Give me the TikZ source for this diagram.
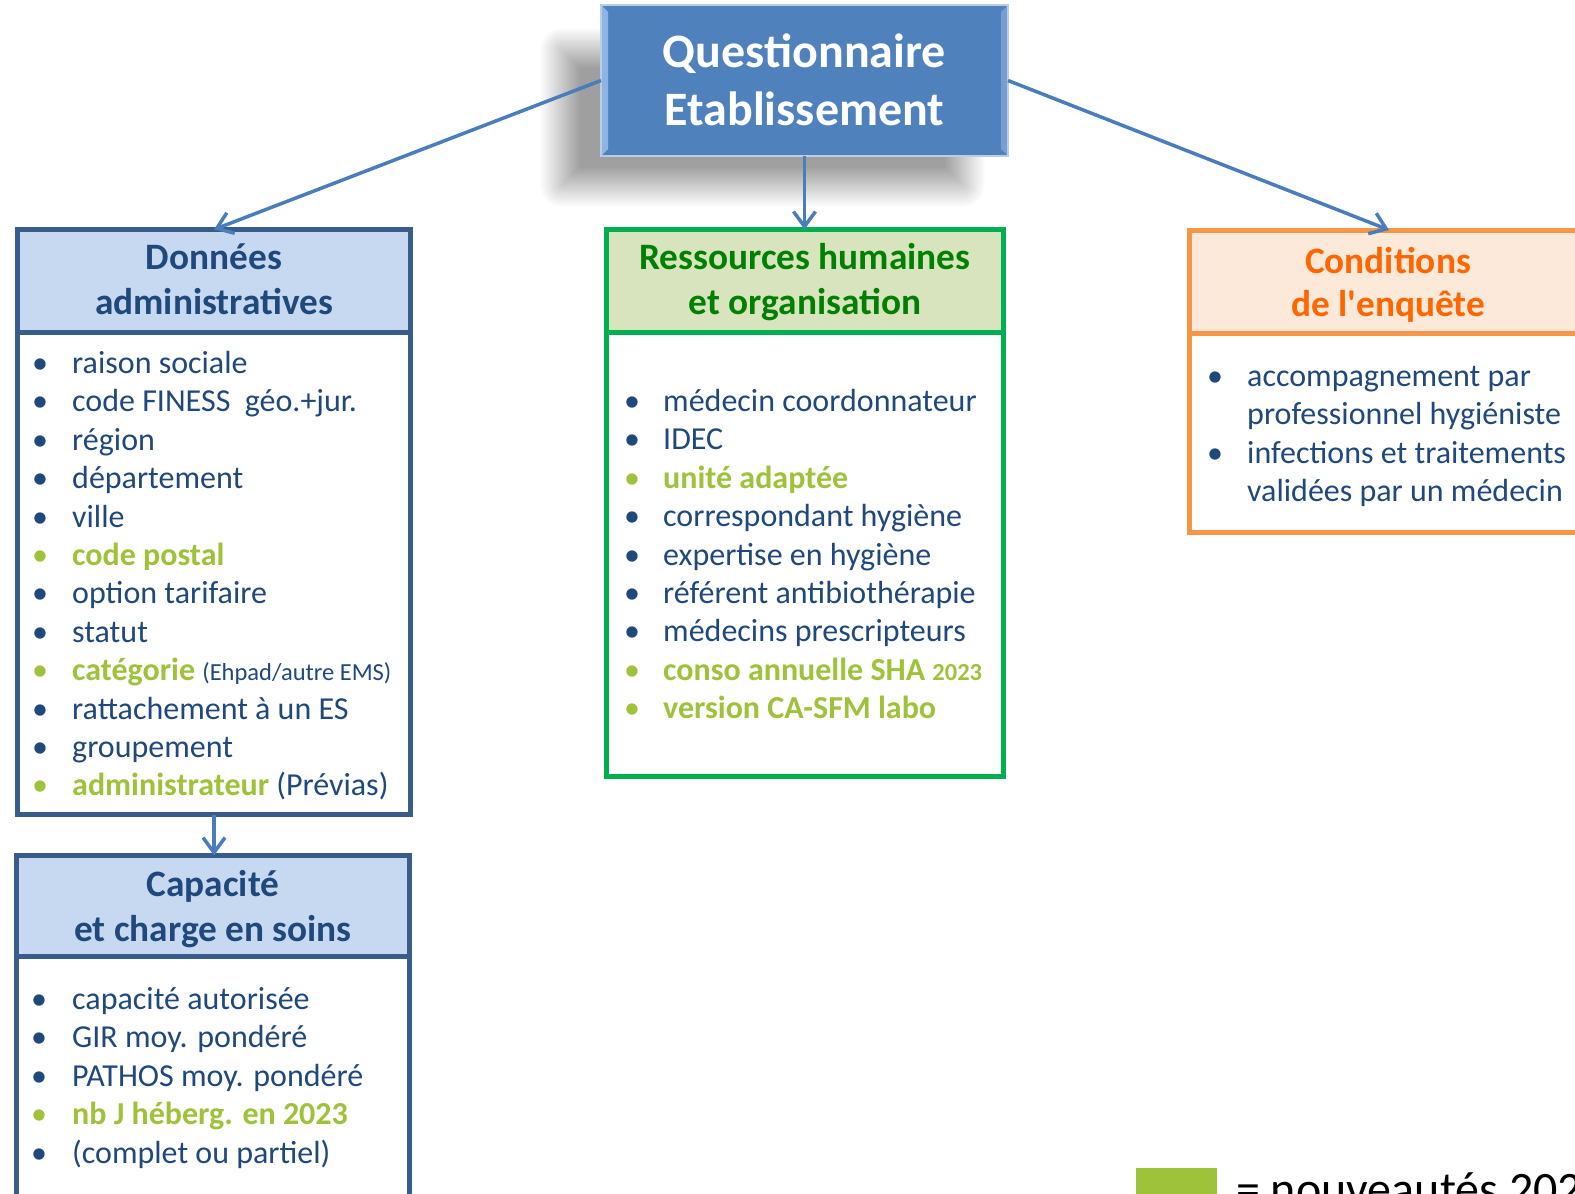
\documentclass[tikz,border=0pt]{standalone}
\usepackage{fontspec}
\setmainfont{Carlito}[Ligatures=TeXOff]
\usetikzlibrary{arrows.meta,calc}
\definecolor{dblue}{RGB}{31,73,125}
\definecolor{newg}{RGB}{158,194,58}
\definecolor{admb}{RGB}{56,93,138}
\definecolor{admf}{RGB}{198,217,241}
\definecolor{rhb}{RGB}{0,176,80}
\definecolor{rhf}{RGB}{215,228,189}
\definecolor{rht}{RGB}{0,128,0}
\definecolor{cob}{RGB}{247,150,70}
\definecolor{cof}{RGB}{253,233,217}
\definecolor{cot}{RGB}{255,102,0}
\definecolor{arr}{RGB}{74,126,187}
\definecolor{qfill}{RGB}{79,129,189}
\definecolor{qedge}{RGB}{185,205,229}
\definecolor{qbevl}{RGB}{141,180,227}
\definecolor{qbevr}{RGB}{118,158,210}

\newcommand\itemsz{\fontsize{32}{38}\selectfont}
\newcommand\headsz{\fontsize{37.3}{45}\selectfont\bfseries}
\newcommand\nw[1]{\textcolor{newg}{\bfseries #1}}

\tikzset{
 panel/.style={draw=#1, line width=5pt, fill=white, inner sep=0pt, outer sep=0pt, anchor=north west},
 phead/.style 2 args={draw=#1, fill=#2, line width=5pt, inner sep=0pt, outer sep=0pt, anchor=north west},
 htext/.style={anchor=base, inner sep=0pt, font=\headsz, text=#1},
 btext/.style={anchor=base west, inner sep=0pt, font=\itemsz, text=dblue},
 bdot/.style={anchor=base, inner sep=0pt, font=\itemsz, text=#1},
 conn/.style={draw=arr, line width=3.5pt, -{Straight Barb[length=15pt,width=22pt]}},
}

\newcommand\bitem[6]{%
  \node[bdot=#5] (#1b) at (#2,#4) {\textbullet};
  \node[btext] (#1) at (#3,#4) {#6};}

\begin{document}
\begin{tikzpicture}[x=1pt,y=-1pt]
\useasboundingbox (0,0) rectangle (1575,1194);
\clip (0,0) rectangle (1575,1194);
\fill[white] (0,0) rectangle (1575,1194);

% soft shadow of the title box
\foreach \i in {0,...,47}{
  \pgfmathsetmacro\ex{20-\i*40/47}
  \pgfmathsetmacro\rc{max(\ex,0)+2}
  \fill[black, opacity=0.008, rounded corners=\rc pt]
    (560-\ex,48-\ex) rectangle (965+\ex,187+\ex);
}

% title box
\node[draw=qedge, line width=1.2pt, fill=qfill, minimum width=407pt, minimum height=151pt,
      inner sep=0pt, outer sep=0pt, anchor=north west] (qe) at (601,5) {};
\fill[qbevl] (qe.north west) -- ++(7,7) -- ($(qe.south west)+(7,-7)$) -- (qe.south west) -- cycle;
\fill[qbevr] (qe.north east) -- ++(-7,7) -- ($(qe.south east)+(-7,-7)$) -- (qe.south east) -- cycle;
\draw[qedge, line width=1.2pt] (qe.north west) rectangle (qe.south east);
\node[anchor=base, inner sep=0pt, font=\fontsize{48}{57}\selectfont\bfseries, text=white] (qe1) at (804.5,67) {Questionnaire};
\node[anchor=base, inner sep=0pt, font=\fontsize{48}{57}\selectfont\bfseries, text=white] (qe2) at (804.5,125) {Etablissement};

% Données administratives
\node[panel=admb, minimum width=393pt, minimum height=585pt] (adm) at (17.5,229.5) {};
\node[phead={admb}{admf}, minimum width=393pt, minimum height=102.5pt] (admh) at (17.5,229.5) {};
\node[htext=dblue] (admt1) at (214,269) {Données};
\node[htext=dblue] (admt2) at (214,314) {administratives};
\bitem{a1}{40}{72}{373.5}{dblue}{raison sociale}
\bitem{a2}{40}{72}{411.9}{dblue}{code FINESS\ \ géo.+jur.}
\bitem{a3}{40}{72}{450.3}{dblue}{région}
\bitem{a4}{40}{72}{488.7}{dblue}{département}
\bitem{a5}{40}{72}{527.1}{dblue}{ville}
\bitem{a6}{40}{72}{565.5}{newg}{\nw{code postal}}
\bitem{a7}{40}{72}{603.9}{dblue}{option tarifaire}
\bitem{a8}{40}{72}{642.3}{dblue}{statut}
\bitem{a9}{40}{72}{680.7}{newg}{\nw{catégorie} {\fontsize{24.5}{28}\selectfont(Ehpad/autre EMS)}}
\bitem{a10}{40}{72}{719.1}{dblue}{rattachement à un ES}
\bitem{a11}{40}{72}{757.5}{dblue}{groupement}
\bitem{a12}{40}{72}{795.9}{newg}{\nw{administrateur} (Prévias)}

% Capacité
\node[panel=admb, minimum width=393pt, minimum height=400pt] (cap) at (16.5,855.5) {};
\node[phead={admb}{admf}, minimum width=393pt, minimum height=100.5pt] (caph) at (16.5,855.5) {};
\node[htext=dblue] (capt1) at (213,896) {Capacité};
\node[htext=dblue] (capt2) at (213,941) {et charge en soins};
\bitem{k1}{39}{72}{1009.5}{dblue}{capacité autorisée}
\bitem{k2}{39}{72}{1047.9}{dblue}{GIR moy. pondéré}
\bitem{k3}{39}{72}{1086.3}{dblue}{PATHOS moy. pondéré}
\bitem{k4}{39}{72}{1124.7}{newg}{\nw{nb J héberg. en 2023}}
\bitem{k5}{39}{72}{1163.1}{dblue}{(complet ou partiel)}

% Ressources humaines
\node[panel=rhb, minimum width=397pt, minimum height=546.5pt] (rh) at (606.5,229.5) {};
\node[phead={rhb}{rhf}, minimum width=397pt, minimum height=102.5pt] (rhh) at (606.5,229.5) {};
\node[htext=rht] (rht1) at (805,269) {Ressources humaines};
\node[htext=rht] (rht2) at (805,314) {et organisation};
\bitem{r1}{632}{663}{411.5}{dblue}{médecin coordonnateur}
\bitem{r2}{632}{663}{449.9}{dblue}{IDEC}
\bitem{r3}{632}{663}{488.3}{newg}{\nw{unité adaptée}}
\bitem{r4}{632}{663}{526.7}{dblue}{correspondant hygiène}
\bitem{r5}{632}{663}{565.1}{dblue}{expertise en hygiène}
\bitem{r6}{632}{663}{603.5}{dblue}{référent antibiothérapie}
\bitem{r7}{632}{663}{641.9}{dblue}{médecins prescripteurs}
\bitem{r8}{632}{663}{680.3}{newg}{\nw{conso annuelle SHA {\fontsize{24.5}{28}\selectfont 2023}}}
\bitem{r9}{632}{663}{718.7}{newg}{\nw{version CA-SFM labo}}

% Conditions de l'enquête
\node[panel=cob, minimum width=400pt, minimum height=302pt] (cond) at (1189,230) {};
\node[phead={cob}{cof}, minimum width=400pt, minimum height=103pt] (condh) at (1189,230) {};
\node[htext=cot] (cot1) at (1388,273) {Conditions};
\node[htext=cot] (cot2) at (1388,316) {de l'enquête};
\bitem{c1}{1215}{1247}{386.5}{dblue}{accompagnement par}
\node[btext] (c2) at (1247,424.9) {professionnel hygiéniste};
\bitem{c3}{1215}{1247}{463.3}{dblue}{infections et traitements}
\node[btext] (c4) at (1247,501.7) {validées par un médecin};

% connectors
\draw[conn] (qe.west) -- (adm.north);
\draw[conn] (qe.east) -- (cond.north);
\draw[conn] (qe.south) -- (qe.south |- rh.north);
\draw[conn] (adm.south) -- (adm.south |- cap.north);

% legend
\node[fill=newg, minimum width=81pt, minimum height=40pt, anchor=north west, inner sep=0pt, outer sep=0pt] (leg) at (1136,1168) {};
\node[anchor=base west, inner sep=0pt, font=\fontsize{48}{58}\selectfont, text=black] (legt) at (1236,1205) {= nouveautés 2024};
\end{tikzpicture}
\end{document}
